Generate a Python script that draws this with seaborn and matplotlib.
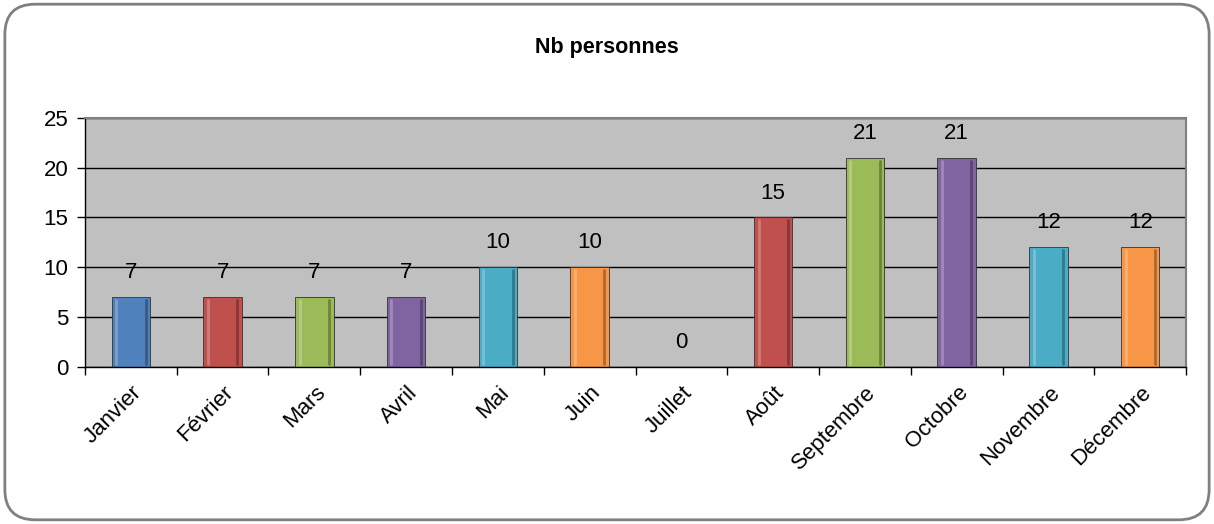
import matplotlib
matplotlib.use("Agg")
import matplotlib.pyplot as plt
import matplotlib.transforms as mtransforms
from matplotlib.patches import FancyBboxPatch
from matplotlib.ticker import FixedLocator
import seaborn as sns
import pandas as pd

# chart data
MONTHS = ['Janvier', 'Février', 'Mars', 'Avril', 'Mai', 'Juin', 'Juillet',
          'Août', 'Septembre', 'Octobre', 'Novembre', 'Décembre']
COUNTS = [7, 7, 7, 7, 10, 10, 0, 15, 21, 21, 12, 12]
COLORS = ['#4F81BD', '#C0504D', '#9BBB59', '#8064A2', '#4BACC6', '#F79646',
          '#4F81BD', '#C0504D', '#9BBB59', '#8064A2', '#4BACC6', '#F79646']
TITLE = 'Nb personnes'

FONT = ['Liberation Sans', 'DejaVu Sans']
TEXT_SIZE = 16


def main():
    sns.set_style('white')
    plt.rcParams['font.family'] = FONT
    plt.rcParams['text.color'] = 'black'
    plt.rcParams['xtick.color'] = 'black'
    plt.rcParams['ytick.color'] = 'black'

    data = pd.DataFrame({'mois': MONTHS, 'nb': COUNTS})

    fig = plt.figure(figsize=(12.14, 5.24), dpi=100)
    ax = fig.add_axes([0.070, 0.300, 0.907, 0.475])

    sns.barplot(data=data, x='mois', y='nb', hue='mois', palette=COLORS,
                width=0.42, legend=False, ax=ax, saturation=1,
                edgecolor='#333333', linewidth=0.6)

    ax.set_facecolor('#C0C0C0')
    ax.set_ylim(0, 25)
    ax.set_xlim(-0.5, len(MONTHS) - 0.5)
    ax.set_yticks(range(0, 26, 5))
    ax.yaxis.grid(True, color='black', linewidth=1)
    ax.set_axisbelow(True)
    ax.set_xlabel('')
    ax.set_ylabel('')

    for side in ['top', 'right']:
        ax.spines[side].set_color('#808080')
        ax.spines[side].set_linewidth(1.5)
    for side in ['left', 'bottom']:
        ax.spines[side].set_color('black')
        ax.spines[side].set_linewidth(1)

    # tick marks between categories, like the source spreadsheet
    ax.xaxis.set_minor_locator(FixedLocator([i - 0.5 for i in range(len(MONTHS) + 1)]))
    ax.tick_params(axis='x', which='major', length=0, pad=12)
    ax.tick_params(axis='x', which='minor', length=6, width=1, color='black', direction='out', bottom=True)
    ax.tick_params(axis='y', length=6, width=1, color='black', direction='out', left=True,
                   labelsize=TEXT_SIZE, pad=6)
    shift = mtransforms.ScaledTranslation(8 / 100, -6 / 100, fig.dpi_scale_trans)
    for lbl in ax.get_xticklabels():
        lbl.set_rotation(45)
        lbl.set_ha('right')
        lbl.set_va('center')
        lbl.set_rotation_mode('anchor')
        lbl.set_fontsize(TEXT_SIZE)
        lbl.set_transform(lbl.get_transform() + shift)

    # bevel-ish highlight on bars
    for patch in ax.patches:
        h = patch.get_height()
        if h <= 0:
            continue
        x0 = patch.get_x()
        w = patch.get_width()
        ax.plot([x0 + w * 0.12, x0 + w * 0.12], [0.3, h - 0.3], color='white', alpha=0.25, lw=2)
        ax.plot([x0 + w * 0.88, x0 + w * 0.88], [0.3, h - 0.3], color='black', alpha=0.3, lw=2)

    for container in ax.containers:
        ax.bar_label(container, fmt='%g', padding=10, fontsize=TEXT_SIZE)

    fig.text(0.5, 0.91, TITLE, ha='center', va='center', fontsize=15.5, fontweight='bold')

    border = FancyBboxPatch((0.004, 0.008), 0.992, 0.984, boxstyle='round,pad=0,rounding_size=0.025',
                            transform=fig.transFigure, facecolor='none', edgecolor='#808080',
                            linewidth=2, zorder=-1, mutation_aspect=1214 / 524)
    fig.patches.append(border)

    fig.savefig('out.png', dpi=100)


if __name__ == '__main__':
    main()
